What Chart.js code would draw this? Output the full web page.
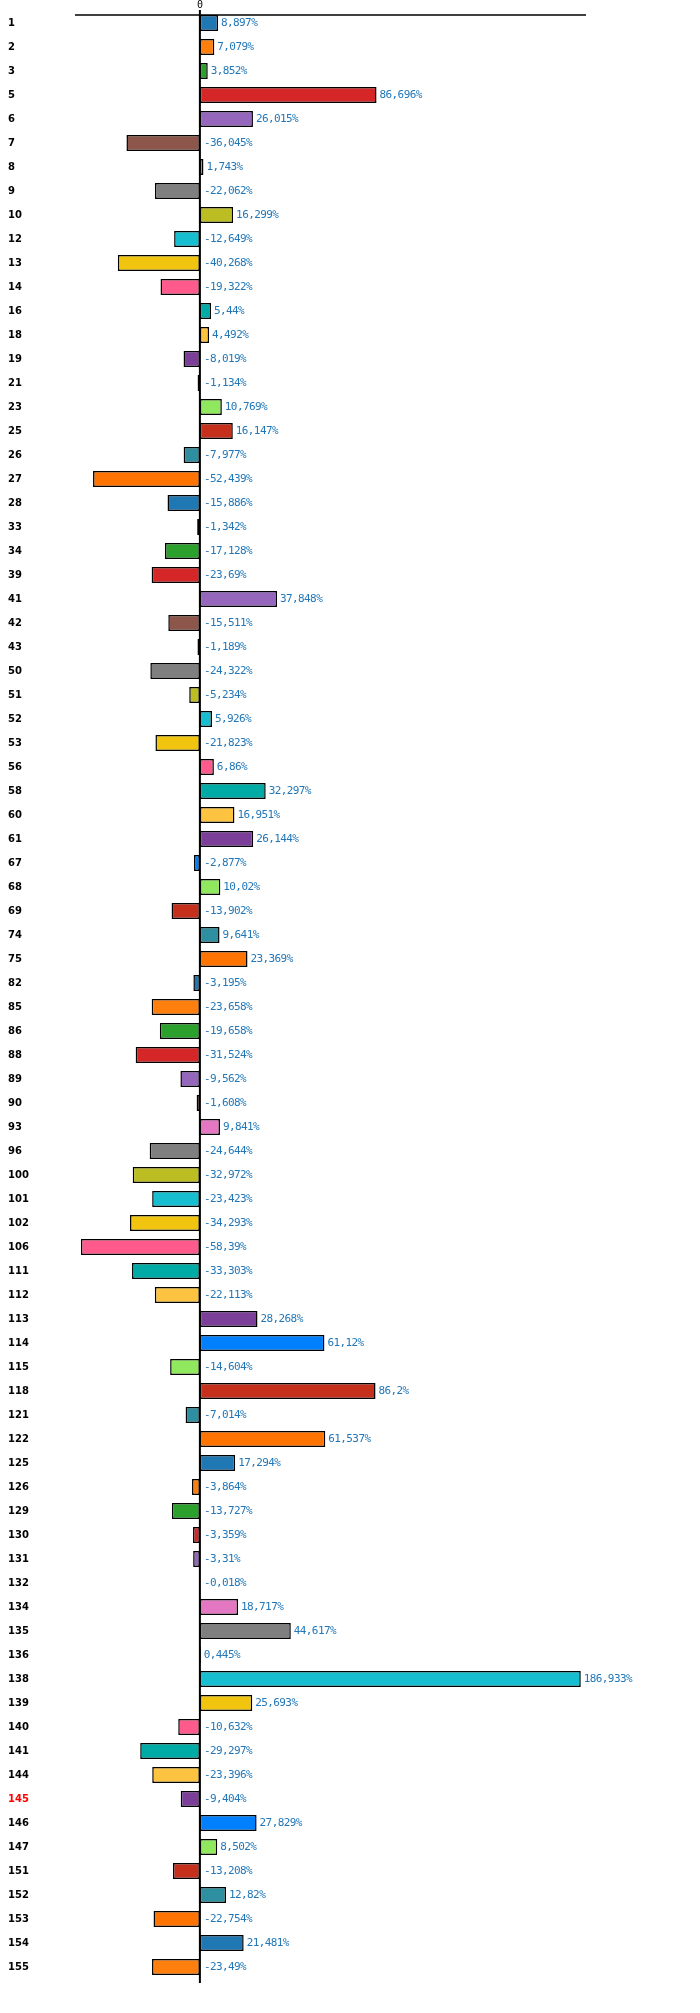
<!DOCTYPE html>
<html>
<head>
<meta charset="utf-8">
<script src="https://cdn.jsdelivr.net/npm/chart.js@4/dist/chart.umd.min.js"></script>
<style>
  body { margin: 0; background: #fff; }
  #wrap { width: 700px; height: 2013px; }
</style>
</head>
<body>
<div id="wrap"><canvas id="barChart"></canvas></div>
<script>
// 資料
const categories = ['1', '2', '3', '5', '6', '7', '8', '9', '10', '12', '13', '14', '16', '18', '19', '21', '23', '25', '26', '27',
  '28', '33', '34', '39', '41', '42', '43', '50', '51', '52', '53', '56', '58', '60', '61', '67', '68', '69', '74', '75',
  '82', '85', '86', '88', '89', '90', '93', '96', '100', '101', '102', '106', '111', '112', '113', '114', '115', '118', '121', '122',
  '125', '126', '129', '130', '131', '132', '134', '135', '136', '138', '139', '140', '141', '144', '145', '146', '147', '151', '152', '153',
  '154', '155'];
const values = [8.897, 7.079, 3.852, 86.696, 26.015, -36.045, 1.743, -22.062, 16.299, -12.649, -40.268, -19.322, 5.44, 4.492, -8.019, -1.134, 10.769, 16.147, -7.977, -52.439,
  -15.886, -1.342, -17.128, -23.69, 37.848, -15.511, -1.189, -24.322, -5.234, 5.926, -21.823, 6.86, 32.297, 16.951, 26.144, -2.877, 10.02, -13.902, 9.641, 23.369,
  -3.195, -23.658, -19.658, -31.524, -9.562, -1.608, 9.841, -24.644, -32.972, -23.423, -34.293, -58.39, -33.303, -22.113, 28.268, 61.12, -14.604, 86.2, -7.014, 61.537,
  17.294, -3.864, -13.727, -3.359, -3.31, -0.018, 18.717, 44.617, 0.445, 186.933, 25.693, -10.632, -29.297, -23.396, -9.404, 27.829, 8.502, -13.208, 12.82, -22.754,
  21.481, -23.49];
const xTicks = [0];
const highlighted = ['145'];

// 20 色循環
const palette = ['#1f77b4', '#ff7f0e', '#2ca02c', '#d62728', '#9467bd', '#8c564b', '#e377c2', '#7f7f7f', '#bcbd22', '#17becf',
  '#f1c40f', '#ff5a8c', '#00aaa5', '#fec340', '#7b3f99', '#0080ff', '#8fe85d', '#c4301c', '#2e8fa0', '#ff7300'];

const fmt = v => String(v).replace('.', ',') + '%';

// 上方軸線 + 零線
const axisLines = {
  id: 'axisLines',
  afterDatasetsDraw(chart) {
    const { ctx, chartArea: a, scales } = chart;
    const x0 = scales.x.getPixelForValue(0);
    ctx.save();
    ctx.strokeStyle = '#000';
    ctx.lineWidth = 1.5;
    ctx.beginPath();
    ctx.moveTo(a.left, a.top + 4);
    ctx.lineTo(a.right, a.top + 4);
    ctx.stroke();
    ctx.lineWidth = 2;
    ctx.beginPath();
    ctx.moveTo(x0, a.top - 1);
    ctx.lineTo(x0, a.bottom + 4);
    ctx.stroke();
    ctx.restore();
  }
};

// 數值標籤
const valueLabels = {
  id: 'valueLabels',
  afterDatasetsDraw(chart) {
    const { ctx, scales } = chart;
    const x0 = scales.x.getPixelForValue(0);
    ctx.save();
    ctx.font = '11px "DejaVu Sans Mono"';
    ctx.letterSpacing = '-0.6px';
    ctx.fillStyle = '#2277b8';
    ctx.textBaseline = 'middle';
    chart.getDatasetMeta(0).data.forEach((bar, i) => {
      const x = values[i] > 0 ? bar.x + 3 : x0 + 4;
      ctx.fillText(fmt(values[i]), x, bar.y + 0.5);
    });
    ctx.restore();
  }
};

new Chart(document.getElementById('barChart'), {
  type: 'bar',
  data: {
    labels: categories,
    datasets: [{
      data: values,
      backgroundColor: values.map((v, i) => palette[i % palette.length]),
      borderColor: '#000',
      borderWidth: 1.5,
      borderSkipped: false,
      barPercentage: 0.667,
      categoryPercentage: 1
    }]
  },
  options: {
    indexAxis: 'y',
    responsive: true,
    maintainAspectRatio: false,
    animation: false,
    layout: { padding: { left: 8, right: 114, top: 0, bottom: 34 } },
    plugins: { legend: { display: false }, tooltip: { enabled: false } },
    scales: {
      x: {
        position: 'top',
        min: -61.3,
        max: 189.5,
        grid: { display: false, drawTicks: false },
        border: { display: false },
        afterFit: s => { s.height = 11; },
        ticks: {
          stepSize: 100,
          autoSkip: false,
          padding: 0,
          color: '#000',
          callback: v => xTicks.includes(v) ? String(v) : '',
          font: { family: 'DejaVu Sans Mono', size: 10 }
        }
      },
      y: {
        grid: { display: false, drawTicks: false },
        border: { display: false },
        afterFit: s => { s.width = 67; },
        ticks: {
          autoSkip: false,
          crossAlign: 'far',
          padding: 0,
          color: c => highlighted.includes(categories[c.index]) ? '#ff0000' : '#000',
          font: { family: 'DejaVu Sans', size: 10, weight: 'bold' }
        }
      }
    }
  },
  plugins: [axisLines, valueLabels]
});
</script>
</body>
</html>
